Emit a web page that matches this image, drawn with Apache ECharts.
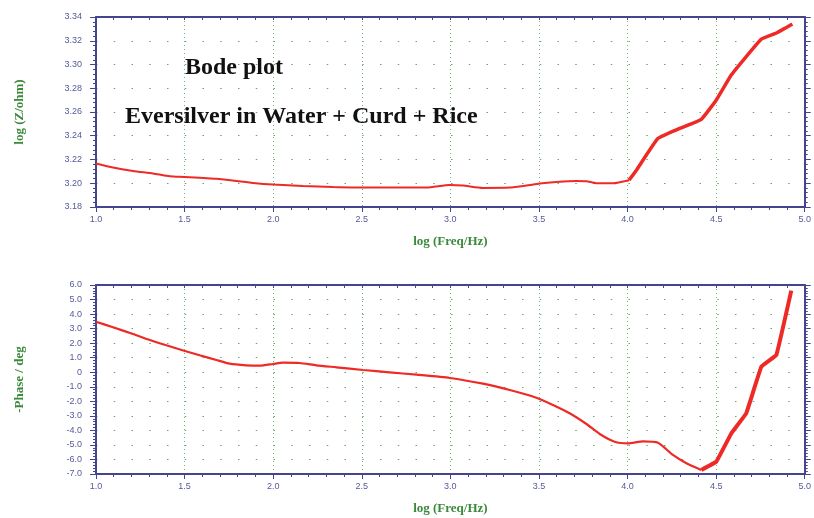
<!DOCTYPE html>
<html><head><meta charset="utf-8">
<script src="https://cdn.jsdelivr.net/npm/echarts@6/dist/echarts.min.js"></script>
<style>html,body{margin:0;padding:0;background:#fff}#c{width:814px;height:518px}</style>
</head><body><div id="c"></div>
<script>
// Impedance magnitude: log(Freq/Hz) vs log(Z/ohm)
const xTop = [1.0,1.096,1.209,1.322,1.416,1.497,1.679,1.886,1.999,2.168,2.337,2.507,2.714,2.865,2.997,3.071,3.184,3.335,3.429,3.504,3.598,3.711,3.768,3.824,3.918,4.008,4.050,4.172,4.295,4.416,4.501,4.586,4.670,4.755,4.840,4.930];
const zTop = [3.2167,3.2133,3.2104,3.2082,3.2059,3.2053,3.2037,3.2003,3.1989,3.1977,3.1969,3.1964,3.1964,3.1964,3.1986,3.1981,3.1961,3.1964,3.1981,3.1998,3.2011,3.2020,3.2017,3.2000,3.2000,3.2026,3.2110,3.2378,3.2462,3.2538,3.2701,3.2913,3.3067,3.3214,3.3265,3.3341];
// Phase: log(Freq/Hz) vs -Phase/deg
const xPh = [1.0,1.096,1.209,1.303,1.397,1.497,1.585,1.679,1.754,1.848,1.924,1.999,2.055,2.149,2.244,2.357,2.507,2.657,2.808,2.997,3.184,3.335,3.485,3.579,3.673,3.768,3.843,3.927,4.002,4.087,4.172,4.256,4.332,4.416,4.501,4.586,4.670,4.755,4.840,4.924];
const phase = [3.476,3.09,2.63,2.217,1.853,1.48,1.165,0.842,0.587,0.477,0.45,0.567,0.657,0.636,0.477,0.34,0.155,-0.004,-0.169,-0.396,-0.788,-1.22,-1.75,-2.25,-2.82,-3.56,-4.25,-4.78,-4.89,-4.75,-4.85,-5.69,-6.26,-6.72,-6.15,-4.2,-2.82,0.38,1.19,5.61];
const titleLines = ['Bode plot','Eversilver in Water + Curd + Rice'];
const xName = 'log (Freq/Hz)';
const yNameTop = 'log (Z/ohm)';
const yNameBot = '-Phase / deg';
const thickFromTop = 4.0, thickFromPh = 4.4;

const AX = '#45458f', LBL = '#55599a', GREEN = '#3b8a3b', VLINE = '#7ab27a', DOT = '#6aa56a', RED = '#ee2a26';
function split(xs, ys, thr){
  const k = xs.findIndex(x => x >= thr);
  const all = xs.map((x,i)=>[x,ys[i]]);
  return [all.slice(0,k+1), all.slice(k)];
}
const topParts = split(xTop, zTop, thickFromTop);
const phParts = split(xPh, phase, thickFromPh);

function xAx(gi, pos){
  const bottom = pos === 'bottom';
  return {
    type:'value', gridIndex:gi, position:pos, min:1, max:5, interval:0.5,
    name: bottom ? xName : '', nameLocation:'middle', nameGap:28,
    nameTextStyle:{color:GREEN, fontFamily:'Liberation Serif', fontWeight:'bold', fontSize:13},
    axisLine:{show:true, onZero:false, lineStyle:{color:AX, width:2}},
    axisTick:{show:true, inside:!bottom, length:bottom?5:3, lineStyle:{color:AX}},
    minorTick:{show:true, splitNumber:5, length:3, lineStyle:{color:AX}},
    axisLabel:{show:bottom, color:LBL, fontSize:9, fontFamily:'Liberation Sans', margin:8, formatter:v=>v.toFixed(1)},
    splitLine:{show:bottom, lineStyle:{color:VLINE, type:[1,3], width:1}}
  };
}
function yAx(gi, pos, min, max, itv, fmt, name){
  const left = pos === 'left';
  return {
    type:'value', gridIndex:gi, position:pos, min, max, interval:itv,
    name: left ? name : '', nameLocation:'middle', nameGap:70, nameRotate:90,
    nameTextStyle:{color:GREEN, fontFamily:'Liberation Serif', fontWeight:'bold', fontSize:13},
    axisLine:{show:true, onZero:false, lineStyle:{color:AX, width:2}},
    axisTick:{show:true, length:6, lineStyle:{color:AX}},
    minorTick:{show:true, splitNumber:5, length:3, lineStyle:{color:AX}},
    axisLabel:{show:left, color:LBL, fontSize:9, fontFamily:'Liberation Sans', margin:14, formatter:fmt},
    splitLine:{show:left, lineStyle:{color:DOT, type:[1.5,16.25], width:1}}
  };
}

const chart = echarts.init(document.getElementById('c'), null, {renderer:'canvas'});
chart.setOption({
  backgroundColor:'#fff',
  animation:false,
  title:[
    {text:titleLines[0], left:180, top:51, textStyle:{fontFamily:'Liberation Serif', fontWeight:'bold', fontSize:24, color:'#111'}},
    {text:titleLines[1], left:120, top:100, textStyle:{fontFamily:'Liberation Serif', fontWeight:'bold', fontSize:24, color:'#111'}}
  ],
  grid:[
    {left:96, width:710, top:17, height:190},
    {left:96, width:710, top:285, height:189}
  ],
  xAxis:[xAx(0,'bottom'), xAx(0,'top'), xAx(1,'bottom'), xAx(1,'top')],
  yAxis:[
    yAx(0,'left',3.18,3.34,0.02,v=>v.toFixed(2),yNameTop),
    yAx(0,'right',3.18,3.34,0.02,v=>v.toFixed(2),''),
    yAx(1,'left',-7,6,1,v=>(Math.abs(v)<1e-9?'0':v.toFixed(1)),yNameBot),
    yAx(1,'right',-7,6,1,v=>v.toFixed(1),'')
  ],
  series:[
    {type:'line', xAxisIndex:0, yAxisIndex:0, showSymbol:false, smooth:0.2, data:topParts[0], lineStyle:{color:RED, width:2}},
    {type:'line', xAxisIndex:0, yAxisIndex:0, showSymbol:false, smooth:0.1, data:topParts[1], lineStyle:{color:RED, width:3.5}},
    {type:'line', xAxisIndex:2, yAxisIndex:2, showSymbol:false, smooth:0.2, data:phParts[0], lineStyle:{color:RED, width:2.2}},
    {type:'line', xAxisIndex:2, yAxisIndex:2, showSymbol:false, smooth:0.05, data:phParts[1], lineStyle:{color:RED, width:4}}
  ]
});
</script></body></html>
